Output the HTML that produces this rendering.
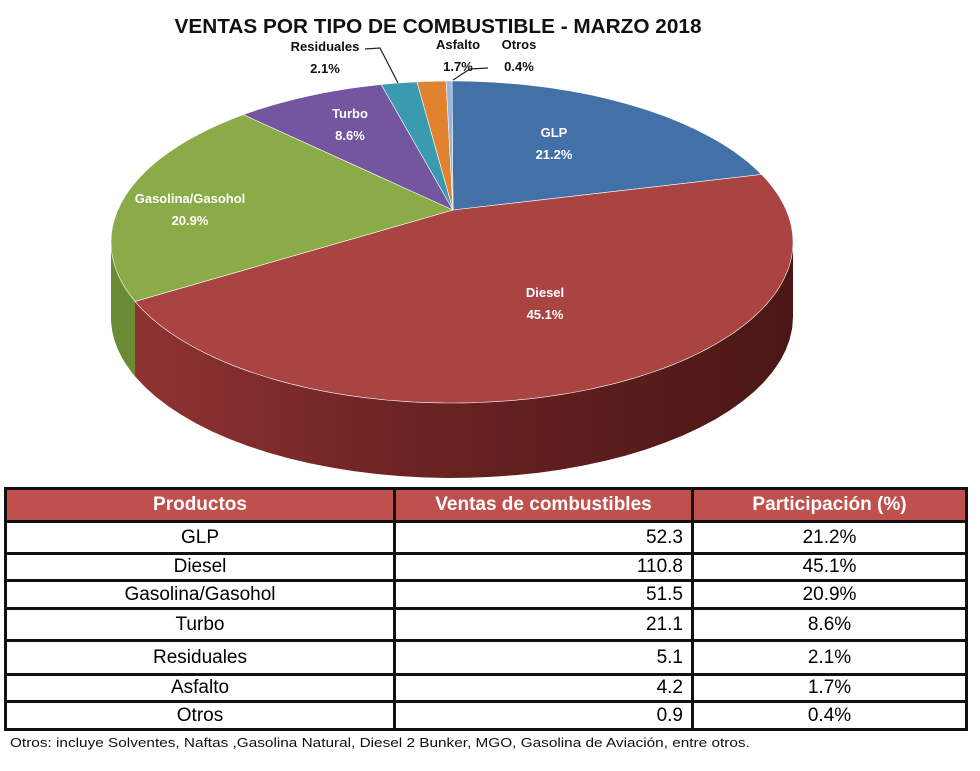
<!DOCTYPE html>
<html><head><meta charset="utf-8"><style>
body{margin:0;background:#fff;width:980px;height:771px;overflow:hidden;font-family:"Liberation Sans",sans-serif}
svg{position:absolute;left:0;top:0}
table{position:absolute;left:4px;top:487px;width:964px;border-collapse:collapse;font-size:19px}
td,th{border:3px solid #111;padding:0 8px;line-height:20px;box-sizing:border-box}
th{background:#c0504d;color:#fff;font-weight:bold;font-size:19px;height:33px}
td.c{text-align:center}td.r{text-align:right}
#note{position:absolute;left:10px;top:735px;font-size:13px;color:#111;transform:scaleX(1.18);transform-origin:0 0;white-space:nowrap}
</style></head><body>
<svg id="chart" width="980" height="485">
<defs><linearGradient id="redside" x1="0" x2="1" y1="0" y2="0">
<stop offset="0" stop-color="#8e3333"/><stop offset="0.45" stop-color="#6a2222"/><stop offset="1" stop-color="#4a1716"/></linearGradient></defs>
</svg>
<table>
<tr><th style="width:389px">Productos</th><th style="width:298px">Ventas de combustibles</th><th>Participación (%)</th></tr>
<tbody id="tb"></tbody></table>
<div id="note">Otros: incluye Solventes, Naftas ,Gasolina Natural, Diesel 2 Bunker, MGO, Gasolina de Aviación, entre otros.</div>
<script>
const categories=["GLP","Diesel","Gasolina/Gasohol","Turbo","Residuales","Asfalto","Otros"];
const sales=[52.3,110.8,51.5,21.1,5.1,4.2,0.9];
const shares=[21.2,45.1,20.9,8.6,2.1,1.7,0.4];
const colors=["#4470a8","#a94442","#8aab48","#7355a0","#3a9ab0","#e0822e","#9ab3d8"];
const sideColors=["#2d4b72","url(#redside)","#6a8a34","#4c3870","#256878","#9a5418","#6b82a8"];
const rowHeights=[32,27,28,32,34,27,28];
const NS="http://www.w3.org/2000/svg";
const svg=document.getElementById('chart');
function mk(t,a){const e=document.createElementNS(NS,t);for(const k in a)e.setAttribute(k,a[k]);svg.appendChild(e);return e;}
const cx=452,cy=242,rx=341,ry=161,ax=453,ay=210,depth=75;
function pt(ph,dy){return [cx+rx*Math.sin(ph),cy-ry*Math.cos(ph)+(dy||0)];}
function toPhi(th){
  const dx=Math.sin(th)*rx,dy=-Math.cos(th)*ry;
  const px=(ax-cx)/rx,py=(ay-cy)/ry,qx=dx/rx,qy=dy/ry;
  const A=qx*qx+qy*qy,B=2*(px*qx+py*qy),C=px*px+py*py-1;
  const t=(-B+Math.sqrt(B*B-4*A*C))/(2*A);
  const x=ax+t*dx,y=ay+t*dy;
  let ph=Math.atan2((x-cx)/rx,-(y-cy)/ry);
  if(ph<-1e-9)ph+=2*Math.PI;
  return ph;
}
const total=shares.reduce((a,b)=>a+b,0);
let cum=0;const bounds=[];
shares.forEach((v,i)=>{const s=cum/total*2*Math.PI;cum+=v;const e=cum/total*2*Math.PI;
  let ps=i==0?0:toPhi(s),pe=i==shares.length-1?2*Math.PI:toPhi(e);if(pe<ps)pe+=2*Math.PI;bounds.push([ps,pe]);});
const t=mk('text',{x:438,y:33,'text-anchor':'middle','font-size':20,'font-weight':'bold',fill:'#111',textLength:527,lengthAdjust:'spacingAndGlyphs'});
t.textContent="VENTAS POR TIPO DE COMBUSTIBLE - MARZO 2018";

bounds.forEach((b,i)=>{
  const s=Math.max(b[0],Math.PI/2),e=Math.min(b[1],3*Math.PI/2);
  if(e<=s)return;
  let d="";const n=40;
  for(let k=0;k<=n;k++){const p=pt(s+(e-s)*k/n);d+=(k?"L":"M")+p[0].toFixed(1)+","+p[1].toFixed(1);}
  for(let k=n;k>=0;k--){const p=pt(s+(e-s)*k/n,depth);d+="L"+p[0].toFixed(1)+","+p[1].toFixed(1);}
  const el=mk('path',{d:d+"Z",fill:sideColors[i]});
  
  
});
bounds.forEach((b,i)=>{
  let d="M"+ax+","+ay;const n=Math.max(4,Math.ceil((b[1]-b[0])*40));
  for(let k=0;k<=n;k++){const p=pt(b[0]+(b[1]-b[0])*k/n);d+="L"+p[0].toFixed(1)+","+p[1].toFixed(1);}
  const el=mk('path',{d:d+"Z",fill:colors[i],stroke:'#fff','stroke-width':0.6});
  
  
});
const inside=[[554,132],[545,292],[190,198],[350,113]];
const outside=[[325,46],[458,44],[519,44]];
const leaders=[[[365,49],[380,48],[398,83]],[],[[488,68],[470,69],[453,80]]];
categories.forEach((c,i)=>{
  let x,y,fill,out=i>=4;
  if(!out){[x,y]=inside[i];fill='#fff';}else{[x,y]=outside[i-4];fill='#111';}
  const g1=mk('text',{x:x,y:y+5,'text-anchor':'middle','font-size':13,'font-weight':'bold',fill:fill});
  g1.textContent=c;
  
  
  const g2=mk('text',{x:x,y:y+27,'text-anchor':'middle','font-size':13,'font-weight':'bold',fill:fill});
  g2.textContent=shares[i].toFixed(1)+"%";
  
  
  if(out&&leaders[i-4].length){
    const l=mk('polyline',{points:leaders[i-4].map(p=>p.join(',')).join(' '),fill:'none',stroke:'#222','stroke-width':1.2});
    
    
  }
});
const tb=document.getElementById('tb');
categories.forEach((c,i)=>{
  const tr=document.createElement('tr');
  
  
  tr.style.height=rowHeights[i]+'px';
  tr.innerHTML='<td class="c">'+c+'</td><td class="r">'+sales[i].toFixed(1)+'</td><td class="c">'+shares[i].toFixed(1)+'%</td>';
  tb.appendChild(tr);
});
</script>
</body></html>
